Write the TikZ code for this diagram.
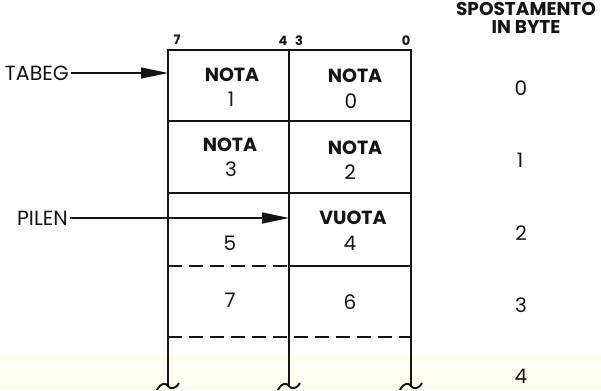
\documentclass[tikz,border=0pt]{standalone}
\usepackage{fontspec}
\setmainfont{Poppins}
\usetikzlibrary{arrows.meta}
\definecolor{ink}{rgb}{0.08,0.08,0.08}
\definecolor{haze}{rgb}{0.997,0.993,0.945}
\begin{document}
\begin{tikzpicture}[x=1pt,y=-1pt,
  frame/.style={draw=ink,line width=1.9pt},
  sepline/.style={draw=ink,line width=1.6pt,dash pattern=on 14pt off 7pt},
  ptr/.style={draw=ink,line width=1.3pt,-{Triangle[length=27pt,width=11pt]}},
  head/.style={text=ink,inner sep=0pt,font=\fontsize{19}{19}\selectfont\bfseries},
  val/.style={text=ink,inner sep=0pt,font=\fontsize{20}{20}\selectfont},
  bitno/.style={text=ink,inner sep=0pt,font=\fontsize{13}{13}\selectfont\bfseries},
  lab/.style={text=ink,inner sep=0pt,font=\fontsize{20.5}{20.5}\selectfont},
  tilde/.style={draw=ink,line width=1.9pt}
]
\useasboundingbox (0,0) rectangle (601,390);
\fill[haze] (0,356) rectangle (601,390);

% table frame and column divider
\draw[frame] (168,386) -- (168,50) -- (411,50) -- (411,386);
\draw[frame] (289,50) -- (289,386);
% row boundaries
\draw[frame] (168,121) -- (411,121);
\draw[frame] (168,193) -- (411,193);
\draw[frame] (289,266) -- (411,266);
\draw[sepline] (168,266) -- (289,266);
\draw[sepline] (168,337) -- (411,337);
% break marks at the open bottom
\foreach \x in {168,289,411}
  \draw[tilde] (\x-11,390) .. controls (\x-7,382) and (\x-2,383) .. (\x,386)
               .. controls (\x+2,389) and (\x+7,390) .. (\x+11,383);

% bit numbers
\node[bitno] (b7) at (177,40) {7};
\node[bitno] (b4) at (283,41) {4};
\node[bitno] (b3) at (299,41) {3};
\node[bitno] (b0) at (406,41) {0};

% cell contents
\node[head] (n1) at (232,75) {NOTA};
\node[val]  (v1) at (231,99) {1};
\node[head] (n0) at (355,76) {NOTA};
\node[val]  (v0) at (351,101) {0};
\node[head] (n3) at (230,145) {NOTA};
\node[val]  (v3) at (231,169) {3};
\node[head] (n2) at (355,148) {NOTA};
\node[val]  (v2) at (350,172) {2};
\node[head] (n4) at (353,218) {VUOTA};
\node[val]  (v4) at (350,243) {4};
\node[val]  (v5) at (230,243) {5};
\node[val]  (v7) at (230,300) {7};
\node[val]  (v6) at (350,302) {6};

% byte offsets
\node[head,align=center,font=\fontsize{18.5}{17.5}\selectfont\bfseries] (sp) at (526,18) {SPOSTAMENTO\\IN BYTE};
\node[val] (o0) at (521,88) {0};
\node[val] (o1) at (520,160) {1};
\node[val] (o2) at (521,233) {2};
\node[val] (o3) at (521,305) {3};
\node[val] (o4) at (521,376) {4};

% pointers
\node[lab,anchor=east] (tabeg) at (69,73) {TABEG};
\node[lab,anchor=east] (pilen) at (68,218) {PILEN};
\coordinate (tabtarget) at (168,73);
\coordinate (piltarget) at (289,218);
\draw[ptr] (tabeg.east) ++(2,0) -- (tabtarget);
\draw[ptr] (pilen.east) ++(2,0) -- (piltarget);
\end{tikzpicture}
\end{document}
